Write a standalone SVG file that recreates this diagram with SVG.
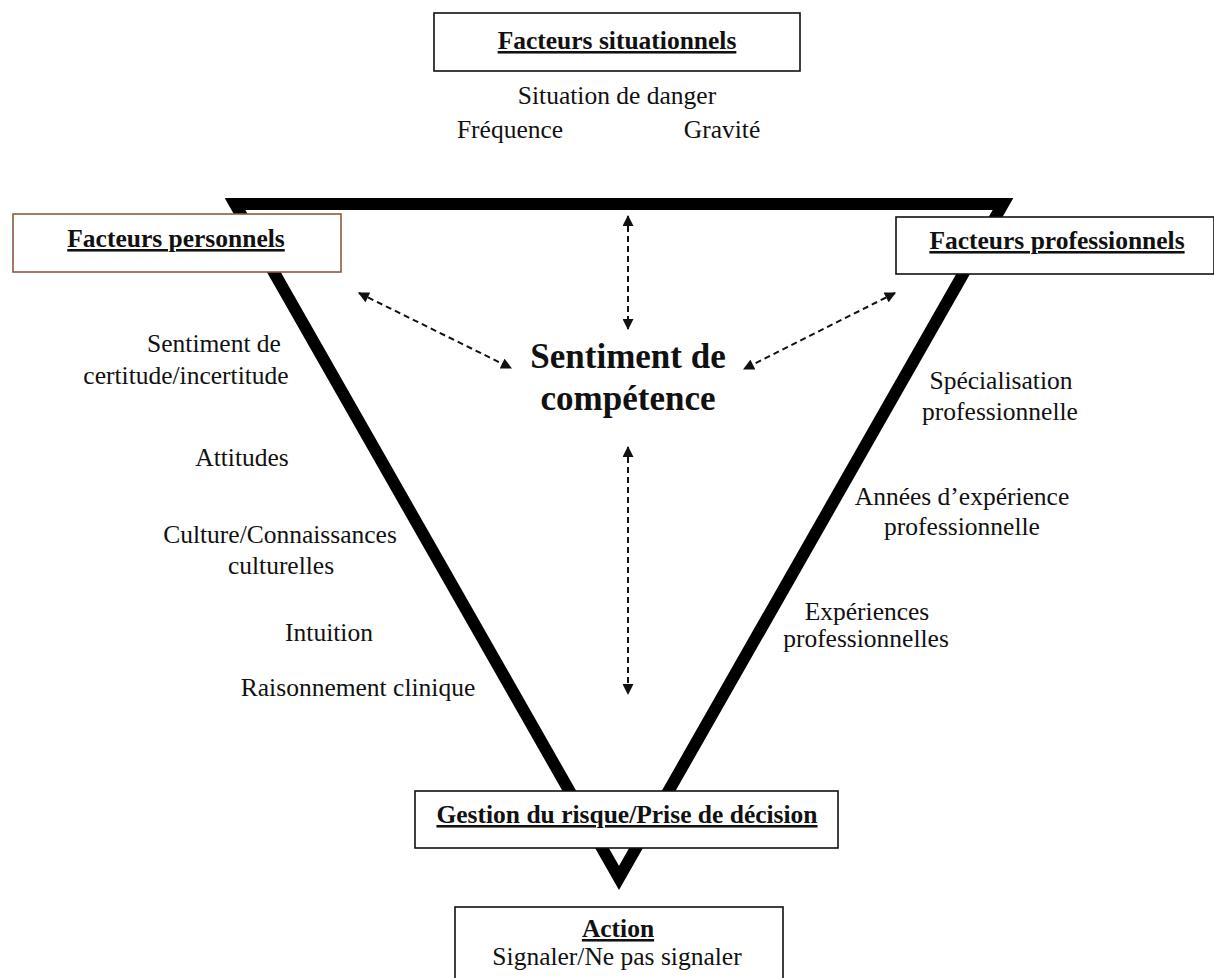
<svg xmlns="http://www.w3.org/2000/svg" width="1214" height="978" viewBox="0 0 1214 978">
<style>
text{font-family:"Liberation Serif","Times New Roman",serif;fill:#111;}
.t{font-size:25.5px;text-anchor:middle;}
.h{font-size:25.5px;font-weight:bold;text-anchor:middle;text-decoration:underline;}
.c{font-size:35px;font-weight:bold;text-anchor:middle;}
.box{fill:#fff;stroke:#111;stroke-width:1.6;}
.dash{fill:none;stroke:#111;stroke-width:2;stroke-dasharray:6 4;marker-start:url(#ah);marker-end:url(#ah);}
</style>
<defs>
<marker id="ah" viewBox="0 0 10 10" refX="9" refY="5" markerWidth="12" markerHeight="11" markerUnits="userSpaceOnUse" orient="auto-start-reverse">
<path d="M0,0 L10,5 L0,10 Z" fill="#111"/>
</marker>
</defs>
<rect width="1214" height="978" fill="#fff"/>
<g id="triangle">
<path d="M235 204 L1003 204 L619 878 Z" fill="none" stroke="#000" stroke-width="12" stroke-linejoin="miter" stroke-miterlimit="10"/>
</g>
<g id="connectors">
<line class="dash" x1="628" y1="216" x2="628" y2="329"/>
<line class="dash" x1="359" y1="293" x2="511" y2="368"/>
<line class="dash" x1="895" y1="293" x2="744" y2="369"/>
<line class="dash" x1="628" y1="447" x2="628" y2="694"/>
</g>
<g id="situationnels">
<rect class="box" x="434" y="13" width="366" height="58"/>
<text class="h" x="617" y="49">Facteurs situationnels</text>
<text class="t" x="617" y="104">Situation de danger</text>
<text class="t" x="510" y="138">Fréquence</text>
<text class="t" x="722" y="138">Gravité</text>
</g>
<g id="personnels">
<rect x="13" y="214" width="328" height="58" fill="#fff" stroke="#8a5a3c" stroke-width="1.6"/>
<text class="h" x="176" y="247">Facteurs personnels</text>
<text class="t" x="214" y="352">Sentiment de</text>
<text class="t" x="186" y="384">certitude/incertitude</text>
<text class="t" x="242" y="466">Attitudes</text>
<text class="t" x="280" y="543">Culture/Connaissances</text>
<text class="t" x="281" y="574">culturelles</text>
<text class="t" x="329" y="641">Intuition</text>
<text class="t" x="358" y="696">Raisonnement clinique</text>
</g>
<g id="professionnels">
<rect class="box" x="896" y="217" width="318" height="57"/>
<text class="h" x="1057" y="249">Facteurs professionnels</text>
<text class="t" x="1001" y="389">Spécialisation</text>
<text class="t" x="1000" y="420">professionnelle</text>
<text class="t" x="962" y="505">Années d’expérience</text>
<text class="t" x="962" y="535">professionnelle</text>
<text class="t" x="867" y="620">Expériences</text>
<text class="t" x="866" y="647">professionnelles</text>
</g>
<g id="competence">
<text class="c" x="628" y="368">Sentiment de</text>
<text class="c" x="628" y="410">compétence</text>
</g>
<g id="gestion">
<rect class="box" x="415" y="791" width="423" height="57"/>
<text class="h" x="627" y="823">Gestion du risque/Prise de décision</text>
</g>
<g id="action">
<rect class="box" x="455" y="907" width="328" height="80"/>
<text class="h" x="618" y="937">Action</text>
<text class="t" x="617" y="965">Signaler/Ne pas signaler</text>
</g>
</svg>
